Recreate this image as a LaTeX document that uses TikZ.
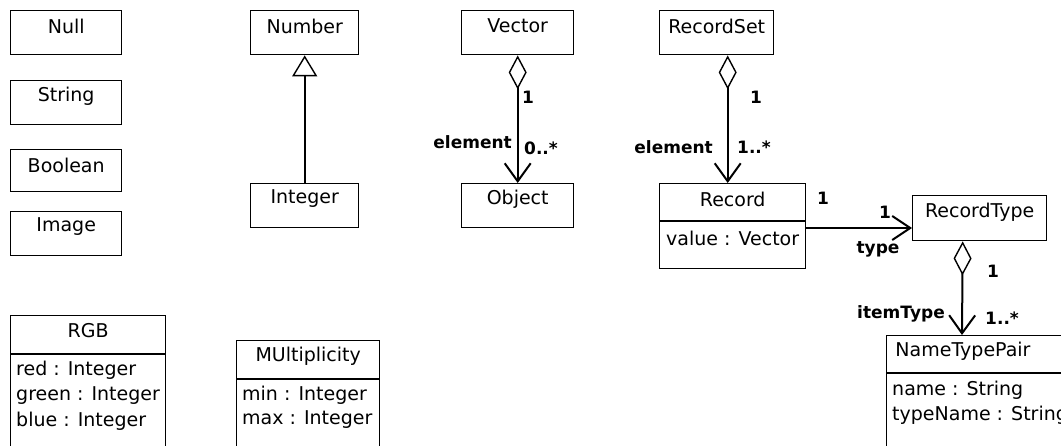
\documentclass[tikz,border=0pt]{standalone}
\usepackage{fontspec}
\setmainfont{DejaVu Sans}
\usetikzlibrary{arrows.meta,calc}
\tikzset{
  box/.style={draw, line width=1.4pt, inner sep=0pt, anchor=north west, fill=white},
  cname/.style={font=\fontsize{19}{21}\selectfont, inner sep=0pt},
  attr/.style={font=\fontsize{19}{21}\selectfont, inner sep=0pt, anchor=west},
  lbl/.style={font=\fontsize{17}{19}\selectfont\bfseries, inner sep=0pt},
  conn/.style={line width=2pt},
  agg/.style={conn, {Diamond[open,length=34pt,width=18pt,line width=1.4pt]}-{Straight Barb[length=18pt,width=26pt,line width=2pt]}},
  nav/.style={conn, -{Straight Barb[length=18pt,width=24pt,line width=2pt]}},
  gen/.style={conn, {Triangle[open,length=21pt,width=25pt,line width=1.4pt]}-},
}
\begin{document}
\begin{tikzpicture}[x=1pt,y=-1pt]
\useasboundingbox (0,0) rectangle (1061,446);
\clip (0,0) rectangle (1061,446);
% simple classes
\node[box, minimum width=111pt, minimum height=44pt] (null) at (10,10) {};
\node[cname] at ($(null.north)+(0,16)$) {Null};
\node[box, minimum width=111pt, minimum height=44pt] (string) at (10,80) {};
\node[cname] at ($(string.north)+(0,16)$) {String};
\node[box, minimum width=111pt, minimum height=42pt] (boolean) at (10,149) {};
\node[cname] at ($(boolean.north)+(0,16)$) {Boolean};
\node[box, minimum width=111pt, minimum height=44pt] (image) at (10,211) {};
\node[cname] at ($(image.north)+(0,16)$) {Image};
% Number / Integer
\node[box, minimum width=108pt, minimum height=44pt] (number) at (250,10) {};
\node[cname] at ($(number.north)+(0,16)$) {Number};
\node[box, minimum width=108pt, minimum height=44pt] (integer) at (250,183) {};
\node[cname] at ($(integer.north)+(0,16)$) {Integer};
\draw[gen] (number) -- (integer);
% Vector / Object
\node[box, minimum width=112pt, minimum height=44pt] (vector) at (461,10) {};
\node[cname] at ($(vector.north)+(0,16)$) {Vector};
\node[box, minimum width=112pt, minimum height=44pt] (object) at (461,183) {};
\node[cname] at ($(object.north)+(0,16)$) {Object};
\draw[agg] (vector) -- (object);
\node[lbl] (v1) at (528,97) {1};
\node[lbl, anchor=east] (vel) at (512,142) {element};
\node[lbl, anchor=west] (vm) at (524,148) {0..*};
% RecordSet / Record
\node[box, minimum width=114pt, minimum height=44pt] (recordset) at (659,10) {};
\node[cname] at ($(recordset.north)+(0,16)$) {RecordSet};
\node[box, minimum width=146pt, minimum height=85pt] (record) at (659,183) {};
\node[cname] at ($(record.north)+(0,16)$) {Record};
\draw[line width=1.2pt] ([yshift=-38pt]record.north west) -- ([yshift=-38pt]record.north east);
\node[attr] at ($(record.north west)+(7,55)$) {value : Vector};
\draw[agg] ($(recordset.south)+(11,0)$) -- ($(record.north)+(-5,0)$);
\node[lbl] (rs1) at (756,97) {1};
\node[lbl, anchor=east] (rsel) at (713,147) {element};
\node[lbl, anchor=west] (rsm) at (737,147) {1..*};
% RecordType
\node[box, minimum width=134pt, minimum height=45pt] (rtype) at (912,195) {};
\node[cname] at ($(rtype.north)+(0,17)$) {RecordType};
\draw[nav] ([yshift=-45pt]record.north east) -- ([yshift=-33pt]rtype.north west);
\node[lbl] (r1) at (823,198) {1};
\node[lbl] (t1) at (885,212) {1};
\node[lbl] (tt) at (878,249) {type};
% NameTypePair
\node[box, minimum width=190pt, minimum height=130pt] (ntp) at (886,335) {};
\node[cname] at ($(ntp.north west)+(77,16)$) {NameTypePair};
\draw[line width=1.2pt] ([yshift=-38pt]ntp.north west) -- ([yshift=-38pt]ntp.north east);
\node[attr] at ($(ntp.north west)+(6,55)$) {name : String};
\node[attr] at ($(ntp.north west)+(6,80)$) {typeName : String};
\draw[agg] ($(rtype.south)+(-17,0)$) -- ($(ntp.north west)+(76,0)$);
\node[lbl] (it1) at (993,271) {1};
\node[lbl] (itl) at (901,314) {itemType};
\node[lbl, anchor=west] (itm) at (985,318) {1..*};
% RGB
\node[box, minimum width=155pt, minimum height=150pt] (rgb) at (10,315) {};
\node[cname] at ($(rgb.north)+(0,16)$) {RGB};
\draw[line width=1.2pt] ([yshift=-39pt]rgb.north west) -- ([yshift=-39pt]rgb.north east);
\node[attr] at ($(rgb.north west)+(6,55)$) {red : Integer};
\node[attr] at ($(rgb.north west)+(6,81)$) {green : Integer};
\node[attr] at ($(rgb.north west)+(6,106)$) {blue : Integer};
% MUltiplicity
\node[box, minimum width=143pt, minimum height=130pt] (mult) at (236,340) {};
\node[cname] at ($(mult.north)+(0,16)$) {MUltiplicity};
\draw[line width=1.2pt] ([yshift=-39pt]mult.north west) -- ([yshift=-39pt]mult.north east);
\node[attr] at ($(mult.north west)+(6,55)$) {min : Integer};
\node[attr] at ($(mult.north west)+(6,80)$) {max : Integer};
\end{tikzpicture}
\end{document}
